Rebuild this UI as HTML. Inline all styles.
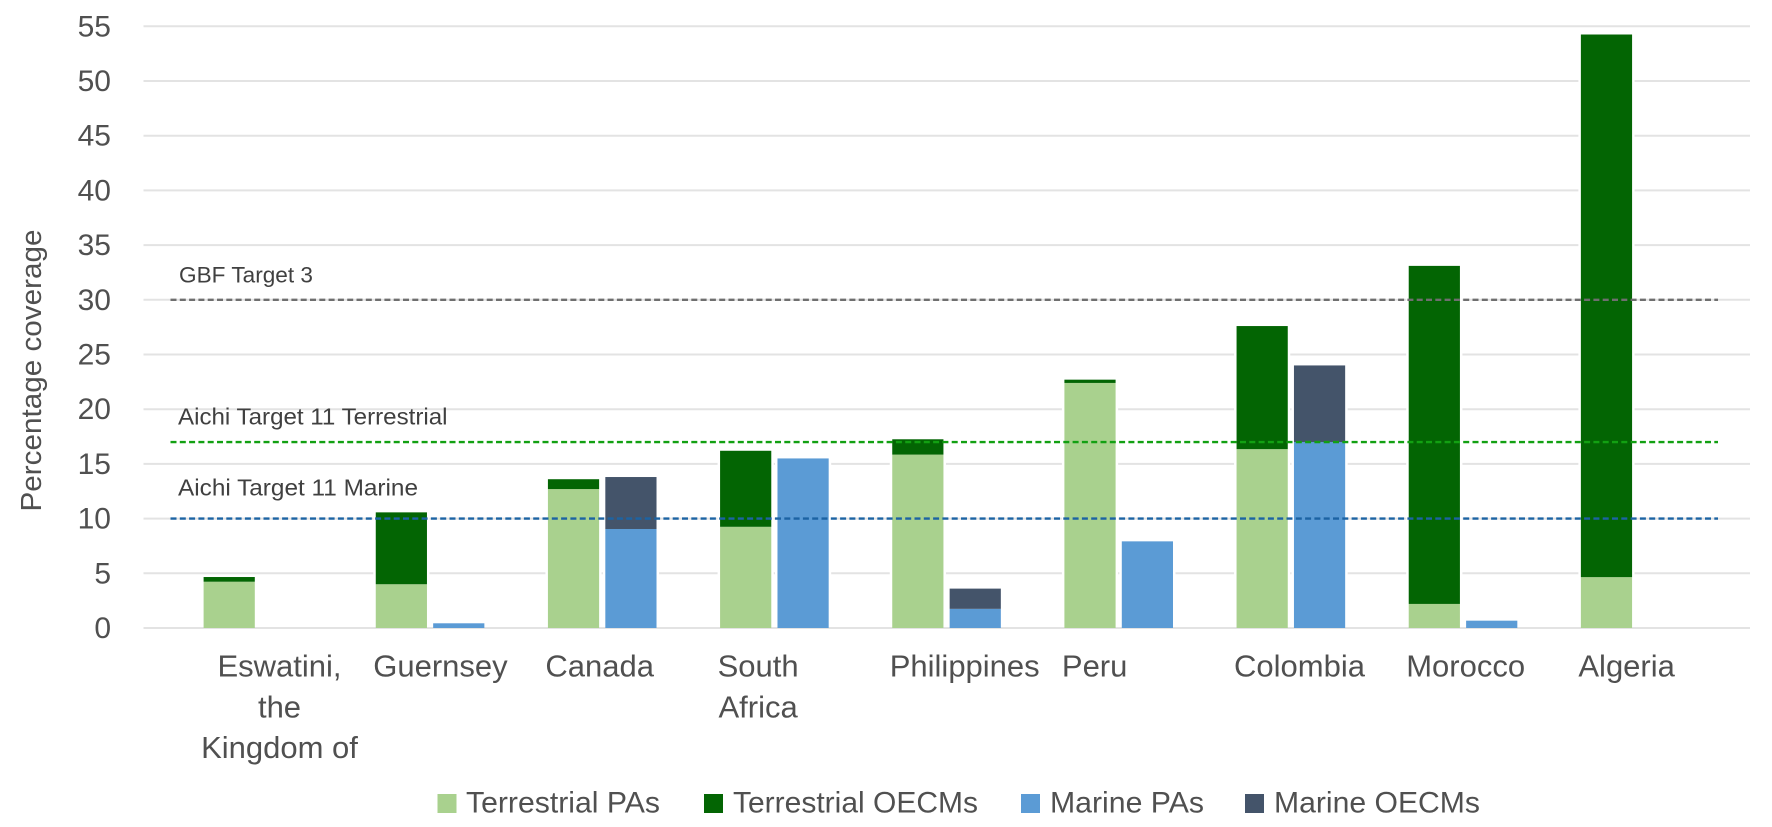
<!DOCTYPE html>
<html lang="en">
<head>
<meta charset="utf-8">
<title>Percentage coverage by country</title>
<style>
  html, body { margin: 0; padding: 0; background: #ffffff; }
  body { width: 1772px; height: 827px; overflow: hidden; }
  svg { display: block; }
  text { font-family: "Liberation Sans", sans-serif; fill: #505050; }
</style>
</head>
<body>
<svg id="chart" xmlns="http://www.w3.org/2000/svg" width="1772" height="827" viewBox="0 0 1772 827">
  <g id="grid"></g>
  <g id="yticks"></g>
  <text transform="translate(41,511.5) rotate(-90)" font-size="29" textLength="282" lengthAdjust="spacingAndGlyphs">Percentage coverage</text>
  <g id="bars"></g>
  <g id="targets"></g>
  <text x="179" y="282.5" font-size="22" textLength="134" lengthAdjust="spacingAndGlyphs" style="fill:#404040">GBF Target 3</text>
  <text x="178" y="424.5" font-size="23" textLength="269.5" lengthAdjust="spacingAndGlyphs" style="fill:#404040">Aichi Target 11 Terrestrial</text>
  <text x="178" y="495.5" font-size="23" textLength="240" lengthAdjust="spacingAndGlyphs" style="fill:#404040">Aichi Target 11 Marine</text>
  <g id="xlabels"></g>
  <g>
    <g>
      <rect x="437.5" y="794" width="19" height="19" fill="#a9d18e"></rect>
      <text x="466" y="812.5" font-size="30" textLength="194" lengthAdjust="spacingAndGlyphs">Terrestrial PAs</text>
    </g>
    <g>
      <rect x="704" y="794" width="19" height="19" fill="#036503"></rect>
      <text x="733" y="812.5" font-size="30" textLength="245" lengthAdjust="spacingAndGlyphs">Terrestrial OECMs</text>
    </g>
    <g>
      <rect x="1021" y="794" width="19" height="19" fill="#5b9bd5"></rect>
      <text x="1050" y="812.5" font-size="30" textLength="154" lengthAdjust="spacingAndGlyphs">Marine PAs</text>
    </g>
    <g>
      <rect x="1245" y="794" width="19" height="19" fill="#44546a"></rect>
      <text x="1274" y="812.5" font-size="30" textLength="206" lengthAdjust="spacingAndGlyphs">Marine OECMs</text>
    </g>
  </g>
</svg>
<script>
// Chart data
var categories = [
  ["Eswatini,", "the", "Kingdom of"],
  ["Guernsey"],
  ["Canada"],
  ["South", "Africa"],
  ["Philippines"],
  ["Peru"],
  ["Colombia"],
  ["Morocco"],
  ["Algeria"]
];
var categorySlugs = ["eswatini", "guernsey", "canada", "south-africa", "philippines", "peru", "colombia", "morocco", "algeria"];
var terrestrialPAs = [4.23, 4.0, 12.7, 9.25, 15.85, 22.4, 16.35, 2.2, 4.65];
var terrestrialOECMs = [0.43, 6.57, 0.9, 6.95, 1.4, 0.3, 11.25, 30.9, 49.6];
var marinePAs = [0, 0.43, 9.05, 15.5, 1.75, 7.92, 17.0, 0.67, 0];
var marineOECMs = [0, 0, 4.75, 0, 1.85, 0, 7.0, 0, 0];
var yTickValues = [0, 5, 10, 15, 20, 25, 30, 35, 40, 45, 50, 55];
var targetNames = ["gbf-target-3", "aichi-target-11-terrestrial", "aichi-target-11-marine"];
var targetValues = [30, 17, 10];
var targetColors = ["#6f6f6f", "#12a012", "#1c63a3"];

// Axis functions
var SVGNS = "http://www.w3.org/2000/svg";
function yScale(v) { return 628 - v * 10.94; }
function terrestrialX(i) { return 203.6 + i * 172.16; }
function marineX(i) { return terrestrialX(i) + 57.4; }
var BAR_WIDTH = 51.2;
var GRID_LEFT = 143.5, GRID_RIGHT = 1750;
var TARGET_LEFT = 170.5, TARGET_RIGHT = 1718;

var grid = document.getElementById("grid");
var yticks = document.getElementById("yticks");
yTickValues.forEach(function (v) {
  var line = document.createElementNS(SVGNS, "line");
  
  
  line.setAttribute("x1", GRID_LEFT);
  line.setAttribute("x2", GRID_RIGHT);
  line.setAttribute("y1", yScale(v));
  line.setAttribute("y2", yScale(v));
  line.setAttribute("stroke", "#e3e3e3");
  line.setAttribute("stroke-width", "2");
  grid.appendChild(line);

  var t = document.createElementNS(SVGNS, "text");
  
  
  t.setAttribute("x", 111);
  t.setAttribute("y", yScale(v) + 10);
  t.setAttribute("text-anchor", "end");
  t.setAttribute("font-size", "30");
  t.textContent = v;
  yticks.appendChild(t);
});

var bars = document.getElementById("bars");
function drawStack(slug, kind, x, lower, upper, lowerColor, upperColor) {
  var total = lower + upper;
  if (total <= 0) { return; }
  var halo = document.createElementNS(SVGNS, "rect");
  
  
  halo.setAttribute("x", x - 2.5);
  halo.setAttribute("width", BAR_WIDTH + 5);
  halo.setAttribute("y", yScale(total));
  halo.setAttribute("height", yScale(0) - yScale(total) - 1);
  halo.setAttribute("fill", "#ffffff");
  bars.appendChild(halo);
  if (lower > 0) {
    var a = document.createElementNS(SVGNS, "rect");
    
    
    a.setAttribute("x", x);
    a.setAttribute("width", BAR_WIDTH);
    a.setAttribute("y", yScale(lower));
    a.setAttribute("height", yScale(0) - yScale(lower));
    a.setAttribute("fill", lowerColor);
    bars.appendChild(a);
  }
  if (upper > 0) {
    var b = document.createElementNS(SVGNS, "rect");
    
    
    b.setAttribute("x", x);
    b.setAttribute("width", BAR_WIDTH);
    b.setAttribute("y", yScale(total));
    b.setAttribute("height", yScale(lower) - yScale(total));
    b.setAttribute("fill", upperColor);
    bars.appendChild(b);
  }
}
categories.forEach(function (c, i) {
  drawStack(categorySlugs[i], "terrestrial", terrestrialX(i), terrestrialPAs[i], terrestrialOECMs[i], "#a9d18e", "#036503");
  drawStack(categorySlugs[i], "marine", marineX(i), marinePAs[i], marineOECMs[i], "#5b9bd5", "#44546a");
});

var targets = document.getElementById("targets");
targetValues.forEach(function (v, i) {
  var line = document.createElementNS(SVGNS, "line");
  
  
  line.setAttribute("x1", TARGET_LEFT);
  line.setAttribute("x2", TARGET_RIGHT);
  line.setAttribute("y1", yScale(v));
  line.setAttribute("y2", yScale(v));
  line.setAttribute("stroke", targetColors[i]);
  line.setAttribute("stroke-width", "2.4");
  line.setAttribute("stroke-dasharray", "6 3.3");
  targets.appendChild(line);
});

var xlabels = document.getElementById("xlabels");
categories.forEach(function (lines, i) {
  var group = document.createElementNS(SVGNS, "g");
  
  
  xlabels.appendChild(group);
  var nodes = lines.map(function (str, k) {
    var t = document.createElementNS(SVGNS, "text");
    
    
    t.setAttribute("y", 676.7 + k * 40.7);
    t.setAttribute("font-size", "31");
    t.textContent = str;
    group.appendChild(t);
    return t;
  });
  var widths = nodes.map(function (n) { return n.getComputedTextLength(); });
  var widest = Math.max.apply(null, widths);
  var left = terrestrialX(i) - 2.5;
  nodes.forEach(function (n, k) {
    n.setAttribute("x", left + (widest - widths[k]) / 2);
  });
});
</script>
</body>
</html>
